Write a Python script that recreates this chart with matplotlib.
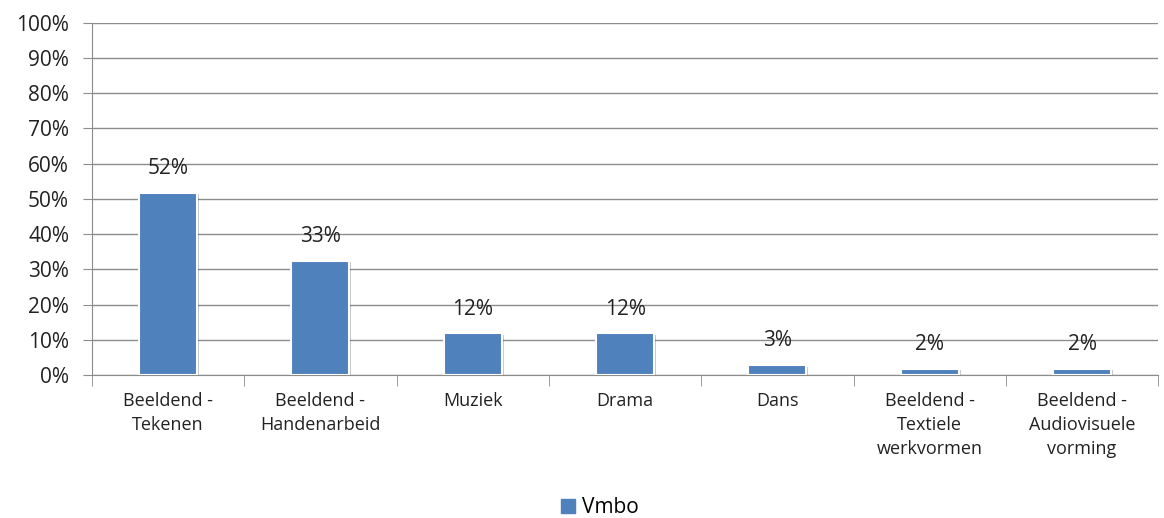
import matplotlib.pyplot as plt
import matplotlib.patheffects as pe
from matplotlib.patches import Patch
import numpy as np

categories = ['Beeldend -\nTekenen', 'Beeldend -\nHandenarbeid', 'Muziek', 'Drama', 'Dans',
              'Beeldend -\nTextiele\nwerkvormen', 'Beeldend -\nAudiovisuele\nvorming']
vmbo = [0.518, 0.325, 0.118, 0.118, 0.028, 0.018, 0.018]
labels = ['52%', '33%', '12%', '12%', '3%', '2%', '2%']
yticks = np.arange(0, 1.01, 0.1)

plt.rcParams['font.family'] = ['Open Sans', 'DejaVu Sans']
grid_col = '#8c8c8c'
bar_col = '#4f81bd'
txt_col = '#222222'

fig = plt.figure(figsize=(11.64, 5.18), dpi=100)
ax = fig.add_axes([0.079, 0.276, 0.916, 0.680])

x = np.arange(len(categories))
bars = ax.bar(x, vmbo, width=0.38, color=bar_col, edgecolor='white', linewidth=1.5, zorder=3)
for b in bars:
    b.set_path_effects([pe.SimplePatchShadow(offset=(1.5, -1), alpha=0.25), pe.Normal()])

for xi, v, lab in zip(x, vmbo, labels):
    ax.annotate(lab, (xi, v), xytext=(0, 10), textcoords='offset points',
                ha='center', va='bottom', fontsize=15, color=txt_col, zorder=4)

ax.set_xlim(-0.5, len(categories) - 0.5)
ax.set_ylim(0, 1)
ax.set_yticks(yticks)
ax.set_yticklabels([f'{int(round(t * 100))}%' for t in yticks], fontsize=15, color=txt_col)
ax.yaxis.grid(True, color=grid_col, linewidth=1, zorder=0)
ax.tick_params(axis='y', length=6.5, color=grid_col, pad=10)

ax.set_xticks(x)
ax.set_xticklabels(categories, fontsize=13, color=txt_col, linespacing=1.45, va='top')
ax.tick_params(axis='x', which='major', length=0, pad=12)
ax.set_xticks(np.arange(-0.5, len(categories), 1), minor=True)
ax.tick_params(axis='x', which='minor', length=8, color=grid_col)

for s in ['top', 'right']:
    ax.spines[s].set_visible(False)
for s in ['left', 'bottom']:
    ax.spines[s].set_color(grid_col)

fig.legend(handles=[Patch(color=bar_col)], labels=['Vmbo'], loc='center',
           bbox_to_anchor=(0.515, 0.02), frameon=False, fontsize=15,
           handlelength=0.7, handleheight=0.7, handletextpad=0.3)

fig.savefig('out.png', dpi=100)
